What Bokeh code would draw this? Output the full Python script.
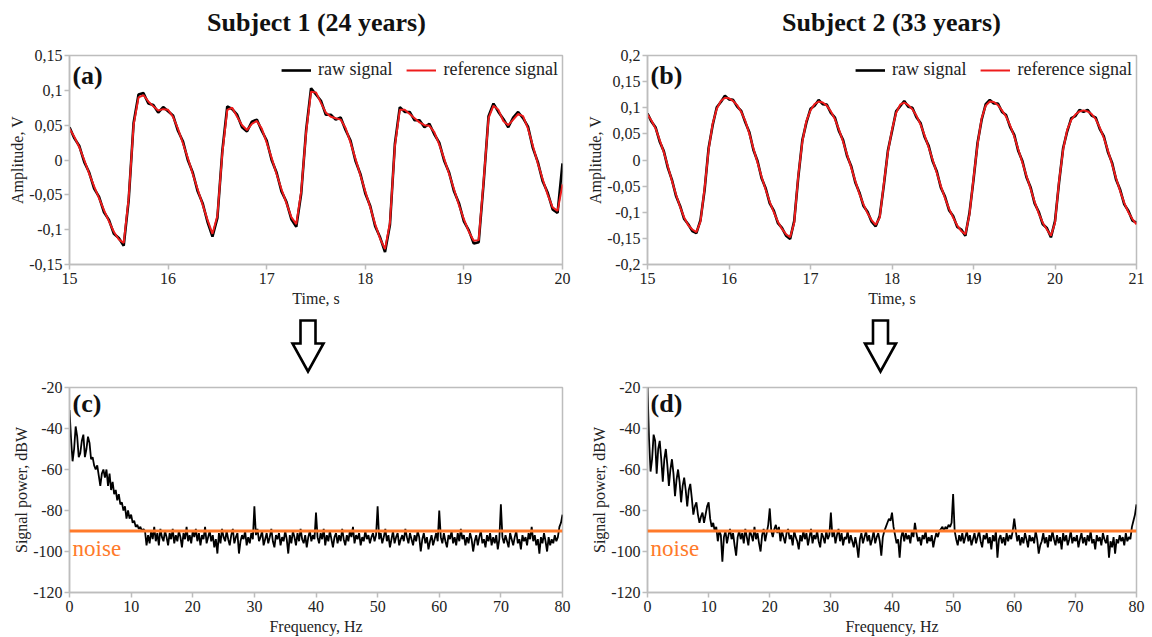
import numpy as np
from bokeh.plotting import figure
from bokeh.layouts import column, row
from bokeh.models import (FixedTicker, Label, Legend, LegendItem, Span, Range1d,
                          CustomJSTickFormatter)
from bokeh.core.properties import value
from bokeh.embed import file_html
from bokeh.resources import INLINE

FONT = "Liberation Serif"
RED = "#EE1C1C"
ORANGE = "#FF7A2A"
GRAY = "#BDBDBD"
TXT = "#222222"

# ---------------- data ----------------
titles = ["Subject 1 (24 years)", "Subject 2 (33 years)"]
panel_tags = ["(a)", "(b)", "(c)", "(d)"]
legend_labels = ["raw signal", "reference signal"]
time_step = 0.05
t0_a, t0_b = 15.0, 15.0

# Subject 1, reference signal (V) every 0.05 s from 15 s to 20 s
ref_a = [0.045, 0.033, 0.018, 0.000, -0.020, -0.038, -0.055, -0.072, -0.088, -0.103,
         -0.114, -0.119, -0.055, 0.050, 0.090, 0.093, 0.084, 0.077, 0.071, 0.073,
         0.072, 0.062, 0.045, 0.024, 0.003, -0.020, -0.042, -0.064, -0.086, -0.106,
         -0.080, 0.010, 0.072, 0.075, 0.062, 0.050, 0.043, 0.052, 0.056, 0.045,
         0.025, 0.003, -0.020, -0.042, -0.062, -0.082, -0.092, -0.045, 0.040, 0.098,
         0.097, 0.082, 0.068, 0.062, 0.060, 0.058, 0.046, 0.025, 0.002, -0.022,
         -0.045, -0.068, -0.092, -0.113, -0.128, -0.090, 0.020, 0.072, 0.072, 0.066,
         0.060, 0.054, 0.050, 0.049, 0.040, 0.022, 0.002, -0.020, -0.042, -0.065,
         -0.085, -0.103, -0.116, -0.115, -0.030, 0.060, 0.078, 0.072, 0.056, 0.050,
         0.058, 0.066, 0.063, 0.045, 0.020, -0.005, -0.028, -0.050, -0.068, -0.073,
         -0.035]
# Subject 1, raw signal (V)
raw_a = [0.047, 0.031, 0.020, -0.003, -0.018, -0.041, -0.053, -0.075, -0.086, -0.106,
         -0.112, -0.123, -0.058, 0.053, 0.094, 0.096, 0.081, 0.079, 0.068, 0.076,
         0.070, 0.064, 0.042, 0.027, 0.000, -0.018, -0.045, -0.062, -0.089, -0.110,
         -0.083, 0.013, 0.077, 0.073, 0.065, 0.047, 0.041, 0.055, 0.058, 0.042,
         0.028, 0.000, -0.018, -0.045, -0.060, -0.085, -0.096, -0.048, 0.043, 0.103,
         0.094, 0.085, 0.065, 0.065, 0.058, 0.061, 0.043, 0.028, -0.001, -0.020,
         -0.048, -0.066, -0.095, -0.111, -0.132, -0.093, 0.023, 0.076, 0.069, 0.069,
         0.057, 0.057, 0.047, 0.052, 0.037, 0.025, -0.001, -0.018, -0.045, -0.062,
         -0.088, -0.101, -0.120, -0.118, -0.033, 0.063, 0.081, 0.069, 0.059, 0.047,
         0.061, 0.069, 0.060, 0.048, 0.017, -0.003, -0.031, -0.047, -0.071, -0.076,
         -0.005]

# Subject 2, reference signal (V) every 0.05 s from 15 s to 21 s
ref_b = [0.087, 0.075, 0.060, 0.038, 0.015, -0.012, -0.040, -0.066, -0.090, -0.110,
         -0.125, -0.133, -0.138, -0.118, -0.055, 0.020, 0.070, 0.098, 0.113, 0.119,
         0.118, 0.113, 0.105, 0.092, 0.075, 0.050, 0.022, -0.005, -0.032, -0.057,
         -0.080, -0.100, -0.118, -0.132, -0.142, -0.148, -0.120, -0.030, 0.035, 0.075,
         0.095, 0.107, 0.112, 0.110, 0.104, 0.093, 0.078, 0.058, 0.035, 0.010,
         -0.015, -0.040, -0.065, -0.085, -0.102, -0.115, -0.124, -0.110, -0.045, 0.015,
         0.058, 0.090, 0.106, 0.110, 0.105, 0.097, 0.085, 0.068, 0.047, 0.024,
         0.000, -0.025, -0.050, -0.073, -0.093, -0.110, -0.125, -0.136, -0.142, -0.105,
         -0.035, 0.030, 0.080, 0.104, 0.112, 0.111, 0.105, 0.095, 0.083, 0.066,
         0.045, 0.020, -0.005, -0.030, -0.055, -0.080, -0.102, -0.120, -0.133, -0.145,
         -0.120, -0.040, 0.020, 0.058, 0.077, 0.087, 0.093, 0.095, 0.093, 0.088,
         0.078, 0.062, 0.042, 0.018, -0.008, -0.035, -0.060, -0.082, -0.100, -0.113,
         -0.123]
# Subject 2, raw signal (V)
raw_b = [0.089, 0.073, 0.062, 0.035, 0.017, -0.015, -0.038, -0.069, -0.088, -0.113,
         -0.123, -0.136, -0.140, -0.115, -0.058, 0.023, 0.067, 0.101, 0.111, 0.123,
         0.116, 0.115, 0.102, 0.094, 0.072, 0.053, 0.019, -0.002, -0.035, -0.054,
         -0.083, -0.097, -0.121, -0.130, -0.145, -0.151, -0.117, -0.033, 0.038, 0.072,
         0.098, 0.104, 0.115, 0.107, 0.106, 0.090, 0.081, 0.055, 0.038, 0.007,
         -0.012, -0.043, -0.062, -0.088, -0.099, -0.118, -0.127, -0.107, -0.048, 0.018,
         0.055, 0.093, 0.103, 0.113, 0.102, 0.100, 0.082, 0.071, 0.044, 0.027,
         -0.003, -0.022, -0.053, -0.070, -0.096, -0.107, -0.128, -0.133, -0.145, -0.102,
         -0.038, 0.033, 0.077, 0.107, 0.115, 0.108, 0.108, 0.092, 0.086, 0.063,
         0.048, 0.017, -0.002, -0.033, -0.052, -0.083, -0.099, -0.123, -0.130, -0.148,
         -0.117, -0.043, 0.023, 0.055, 0.080, 0.084, 0.096, 0.092, 0.096, 0.085,
         0.081, 0.059, 0.045, 0.015, -0.005, -0.038, -0.057, -0.085, -0.097, -0.116,
         -0.120]

# Spectra (dBW), every 0.25 Hz; one row = 5 Hz
freq_step = 0.25
spec_c_rows = [
    [-31, -45, -56, -50, -39, -44, -54, -52, -46, -43, -54, -50, -44, -47, -55, -54, -58, -60, -58, -63],
    [-68, -62, -60, -64, -60, -68, -62, -70, -66, -72, -70, -75, -72, -77, -76, -80, -78, -84, -80, -84],
    [-82, -86, -85, -88, -87, -89, -88, -90, -89, -90, -97, -92, -96, -90, -94, -88, -95, -91, -97, -89],
    [-93, -95, -90, -93, -97, -91, -94, -89, -96, -92, -95, -90, -93, -98, -91, -94, -88, -95, -92, -96],
    [-90, -93, -89, -95, -91, -97, -92, -94, -88, -96, -93, -90, -95, -92, -98, -94, -101, -91, -96, -89],
    [-93, -95, -90, -94, -97, -92, -89, -96, -93, -91, -101, -95, -92, -94, -90, -97, -93, -96, -91, -94],
    [-78, -92, -89, -95, -93, -90, -97, -94, -91, -96, -93, -89, -95, -98, -92, -94, -91, -97, -93, -95],
    [-90, -94, -101, -92, -96, -90, -93, -97, -91, -95, -89, -94, -96, -92, -98, -93, -90, -95, -92, -94],
    [-81, -93, -96, -91, -94, -89, -97, -92, -95, -90, -94, -98, -93, -91, -96, -92, -95, -89, -94, -97],
    [-92, -95, -90, -93, -88, -96, -92, -94, -91, -97, -93, -95, -90, -94, -92, -96, -93, -91, -95, -92],
    [-78, -94, -91, -96, -93, -89, -95, -92, -98, -94, -90, -96, -93, -91, -97, -94, -92, -95, -89, -93],
    [-96, -91, -94, -97, -92, -95, -90, -93, -100, -94, -91, -96, -93, -99, -95, -92, -97, -94, -91, -95],
    [-80, -93, -96, -91, -95, -98, -92, -94, -90, -96, -93, -97, -91, -95, -89, -94, -92, -97, -93, -96],
    [-91, -94, -100, -95, -92, -97, -93, -90, -96, -94, -98, -92, -95, -91, -97, -93, -96, -92, -99, -94],
    [-77, -93, -96, -92, -95, -98, -91, -94, -97, -93, -90, -96, -94, -99, -92, -95, -93, -97, -91, -94],
    [-88, -95, -92, -97, -94, -101, -93, -96, -91, -95, -100, -93, -97, -94, -96, -92, -95, -93, -88, -86],
    [-82],
]
spec_d_rows = [
    [-20, -45, -61, -55, -43, -46, -62, -50, -46, -55, -66, -55, -50, -58, -68, -60, -55, -62, -73, -65],
    [-60, -66, -76, -68, -64, -70, -78, -70, -67, -74, -82, -78, -76, -82, -86, -83, -81, -86, -82, -78],
    [-76, -84, -88, -86, -90, -88, -95, -90, -92, -105, -93, -90, -96, -92, -89, -94, -91, -97, -102, -93],
    [-90, -94, -91, -96, -89, -93, -97, -90, -92, -95, -88, -94, -91, -96, -100, -92, -89, -95, -91, -87],
    [-79, -90, -93, -89, -87, -91, -88, -95, -90, -93, -96, -91, -89, -94, -92, -97, -90, -93, -95, -99],
    [-92, -95, -90, -94, -91, -97, -93, -89, -96, -92, -94, -90, -95, -98, -91, -93, -96, -90, -94, -92],
    [-81, -93, -90, -96, -92, -89, -95, -91, -97, -93, -94, -90, -96, -92, -95, -98, -93, -97, -103, -94],
    [-91, -96, -93, -90, -95, -92, -97, -94, -90, -96, -93, -91, -95, -102, -93, -90, -88, -86, -84, -85],
    [-81, -88, -92, -96, -94, -103, -93, -90, -95, -91, -94, -92, -96, -90, -93, -86, -91, -95, -93, -97],
    [-92, -94, -90, -96, -93, -95, -92, -98, -94, -91, -93, -90, -89, -88, -90, -88, -89, -87, -88, -86],
    [-72, -90, -94, -97, -92, -95, -91, -96, -93, -90, -95, -92, -97, -94, -91, -96, -93, -90, -95, -98],
    [-92, -94, -91, -96, -93, -99, -92, -95, -90, -103, -94, -92, -96, -93, -97, -91, -95, -92, -94, -90],
    [-84, -90, -95, -92, -97, -93, -96, -91, -94, -98, -92, -95, -93, -96, -90, -94, -101, -97, -95, -91],
    [-96, -93, -98, -92, -95, -90, -94, -97, -92, -96, -93, -99, -91, -95, -92, -97, -94, -90, -96, -93],
    [-95, -92, -98, -94, -91, -96, -93, -97, -92, -95, -90, -96, -94, -99, -92, -95, -93, -97, -91, -94],
    [-96, -92, -103, -95, -98, -93, -101, -94, -96, -92, -95, -93, -97, -91, -95, -93, -94, -88, -85, -82],
    [-77],
]
noise_level_c = -90
noise_level_d = -90

ticks_time_a = [15, 16, 17, 18, 19, 20]
ticks_time_b = [15, 16, 17, 18, 19, 20, 21]
ticks_amp_a = [-0.15, -0.1, -0.05, 0, 0.05, 0.1, 0.15]
ticks_amp_b = [-0.2, -0.15, -0.1, -0.05, 0, 0.05, 0.1, 0.15, 0.2]
ticks_freq = [0, 10, 20, 30, 40, 50, 60, 70, 80]
ticks_pow = [-120, -100, -80, -60, -40, -20]

assert len(ref_a) == len(raw_a) == 101
assert len(ref_b) == len(raw_b) == 121
spec_c = [v for r in spec_c_rows for v in r]
spec_d = [v for r in spec_d_rows for v in r]
assert len(spec_c) == 321 and len(spec_d) == 321

t_a = np.round(t0_a + time_step * np.arange(len(ref_a)), 3)
t_b = np.round(t0_b + time_step * np.arange(len(ref_b)), 3)
f_c = freq_step * np.arange(len(spec_c))
f_d = freq_step * np.arange(len(spec_d))

# ---------------- helpers ----------------
comma_fmt = CustomJSTickFormatter(code="""
const v = Math.round(tick * 1000) / 1000;
return v.toString().replace('.', ',');
""")


def make_panel(width, height, mb, xr, yr, xticks, yticks, xlabel, ylabel):
    p = figure(width=width, height=height, x_range=Range1d(*xr), y_range=Range1d(*yr),
               output_backend="svg", toolbar_location=None,
               min_border_left=mb[0], min_border_right=mb[1],
               min_border_top=mb[2], min_border_bottom=mb[3],
               background_fill_color="white", border_fill_color="white")
    p.grid.visible = False
    p.outline_line_color = GRAY
    p.outline_line_width = 1.5
    p.xaxis.ticker = FixedTicker(ticks=xticks)
    p.yaxis.ticker = FixedTicker(ticks=yticks)
    p.xaxis.formatter = comma_fmt
    p.yaxis.formatter = comma_fmt
    for ax in (p.xaxis, p.yaxis):
        ax.axis_line_color = GRAY
        ax.axis_line_width = 1.5
        ax.major_tick_line_color = GRAY
        ax.major_tick_line_width = 1.5
        ax.major_tick_in = 0
        ax.major_tick_out = 5
        ax.minor_tick_line_color = None
        ax.major_label_text_font = FONT
        ax.major_label_text_font_size = "16px"
        ax.major_label_text_color = TXT
        ax.major_label_standoff = 3
        ax.axis_label_text_font = FONT
        ax.axis_label_text_font_size = "16px"
        ax.axis_label_text_font_style = "normal"
        ax.axis_label_text_color = TXT
        ax.axis_label_standoff = 3
    p.yaxis.axis_label_standoff = 0
    p.yaxis.major_label_standoff = 2
    p.xaxis.axis_label = xlabel
    p.yaxis.axis_label = ylabel
    return p


def tag(p, x, y, text):
    p.add_layout(Label(x=x, y=y, text=text, text_font=FONT, text_font_size="26px",
                       text_font_style="bold", text_color="#111111",
                       text_baseline="middle", text_align="left"))


def signal_panel(p, t, raw, ref):
    r_raw = p.line(t, raw, line_color="black", line_width=2.6)
    r_ref = p.line(t, ref, line_color=RED, line_width=2.0)
    lg = Legend(items=[LegendItem(label=legend_labels[0], renderers=[r_raw]),
                       LegendItem(label=legend_labels[1], renderers=[r_ref])],
                location="top_right", orientation="horizontal",
                background_fill_alpha=0, border_line_alpha=0,
                label_text_font=FONT, label_text_font_size="18px", label_text_color=TXT,
                glyph_width=30, glyph_height=18, label_standoff=7, spacing=14,
                margin=2, padding=2)
    p.add_layout(lg)


def spectrum_panel(p, f, s, noise):
    p.line(f, s, line_color="black", line_width=1.8)
    p.add_layout(Span(location=noise, dimension="width", line_color=ORANGE, line_width=2.8))
    p.add_layout(Label(x=0.5, y=-98.5, text="noise", text_font=FONT, text_font_size="23px",
                       text_color=ORANGE, text_baseline="alphabetic", text_align="left"))


# ---------------- header with subject titles ----------------
ph = figure(width=1152, height=40, x_range=Range1d(0, 1152), y_range=Range1d(40, 0),
            output_backend="svg", toolbar_location=None, x_axis_location=None,
            y_axis_location=None, min_border=0, outline_line_color=None)
ph.grid.visible = False
ph.text(x=[316, 891], y=[22, 22], text=titles, text_font=value(FONT),
        text_font_size="26px", text_font_style="bold", text_color="#111111",
        text_align="center", text_baseline="middle")

# ---------------- panels ----------------
LEFT_MB = (69, 14)
RIGHT_MB = (71, 16)

pa = make_panel(576, 270, LEFT_MB + (15, 46), (15, 20), (-0.15, 0.15),
                ticks_time_a, ticks_amp_a, "Time, s", "Amplitude, V")
signal_panel(pa, t_a, raw_a, ref_a)
tag(pa, 15.03, 0.121, panel_tags[0])

pb = make_panel(576, 270, RIGHT_MB + (15, 46), (15, 21), (-0.2, 0.2),
                ticks_time_b, ticks_amp_b, "Time, s", "Amplitude, V")
signal_panel(pb, t_b, raw_b, ref_b)
tag(pb, 15.037, 0.162, panel_tags[1])

pc = make_panel(576, 257, LEFT_MB + (7, 43), (0, 80), (-120, -20),
                ticks_freq, ticks_pow, "Frequency, Hz", "Signal power, dBW")
spectrum_panel(pc, f_c, spec_c, noise_level_c)
tag(pc, 0.5, -27.7, panel_tags[2])

pd = make_panel(576, 257, RIGHT_MB + (7, 43), (0, 80), (-120, -20),
                ticks_freq, ticks_pow, "Frequency, Hz", "Signal power, dBW")
spectrum_panel(pd, f_d, spec_d, noise_level_d)
tag(pd, 0.5, -27.7, panel_tags[3])

# ---------------- arrows between rows ----------------
pm = figure(width=1152, height=70, x_range=Range1d(0, 1152), y_range=Range1d(380, 310),
            output_backend="svg", toolbar_location=None, x_axis_location=None,
            y_axis_location=None, min_border=0, outline_line_color=None)
pm.grid.visible = False
arrow_dx = [-7.5, 7.5, 7.5, 15.5, 0, -15.5, -7.5]
arrow_dy = [320, 320, 343, 343, 371, 343, 343]
for cx in (307.5, 880):
    pm.patch([cx + d for d in arrow_dx], arrow_dy, fill_color="white",
             line_color="black", line_width=2.6, line_join="miter")

layout = column(ph, row(pa, pb), pm, row(pc, pd))
open("out.html", "w").write(file_html(layout, INLINE))
